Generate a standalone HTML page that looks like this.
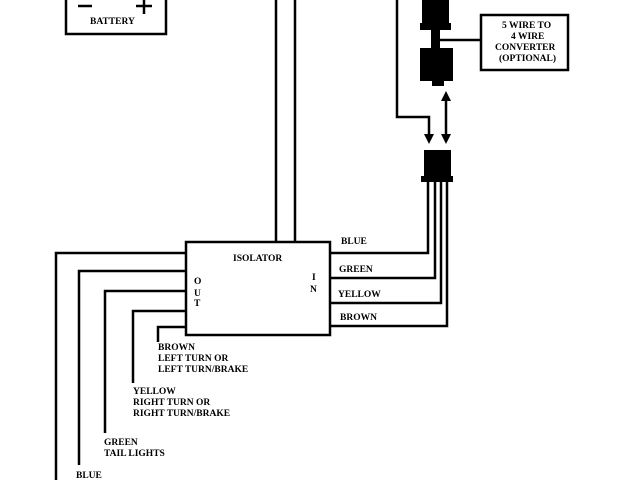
<!DOCTYPE html>
<html><head><style>
body{margin:0;background:#fff;}
svg{display:block}
text{font-family:"Liberation Serif",serif;font-weight:bold;font-size:9.5px;fill:#000}
</style></head><body>
<svg width="640" height="480" viewBox="0 0 640 480" xmlns="http://www.w3.org/2000/svg">
<g fill="none" stroke="#000" stroke-width="2.5">
<polyline points="66,-2 66,34 166,34 166,-2"/>
<line x1="276" y1="0" x2="276" y2="242"/>
<line x1="295" y1="0" x2="295" y2="242"/>
<rect x="186" y="242" width="144" height="93"/>
<polyline points="330,253 428,253 428,182"/>
<polyline points="330,278 435,278 435,182"/>
<polyline points="330,303 441,303 441,182"/>
<polyline points="330,326 447,326 447,182"/>
<polyline points="186,253 56,253 56,480"/>
<polyline points="186,271 79,271 79,465"/>
<polyline points="186,291 105,291 105,433"/>
<polyline points="186,311 133,311 133,383"/>
<polyline points="186,327 158,327 158,342"/>
<polyline points="397,0 397,117 429,117 429,135"/>
<line x1="446" y1="100" x2="446" y2="136"/>
<rect x="481" y="15" width="87" height="55"/>
<line x1="440" y1="40" x2="481" y2="40"/>
</g>
<g fill="#000">
<polygon points="424,134 434,134 429,144"/>
<polygon points="441,101 451,101 446,91"/>
<polygon points="441,134 451,134 446,144"/>
<rect x="424" y="150" width="27" height="28"/>
<rect x="421" y="176" width="32" height="6"/>
<rect x="422" y="0" width="27" height="25"/>
<rect x="420" y="23" width="31" height="7"/>
<rect x="431" y="30" width="9" height="18"/>
<rect x="420" y="48" width="33" height="33"/>
<rect x="432" y="80" width="12" height="6"/>
</g>
<g stroke="#000" stroke-width="2.5" fill="none">
<line x1="78" y1="6" x2="92" y2="6"/>
<line x1="136" y1="6" x2="152" y2="6"/>
<line x1="144" y1="-2" x2="144" y2="14"/>
</g>
<text x="90" y="24">BATTERY</text>
<text x="233" y="261">ISOLATOR</text>
<text x="194" y="284">O</text>
<text x="194" y="296">U</text>
<text x="194" y="306">T</text>
<text x="312" y="280">I</text>
<text x="310" y="292">N</text>
<text x="341" y="244">BLUE</text>
<text x="339" y="272">GREEN</text>
<text x="338" y="297">YELLOW</text>
<text x="340" y="320">BROWN</text>
<text x="158" y="350">BROWN</text>
<text x="158" y="361">LEFT TURN OR</text>
<text x="158" y="372">LEFT TURN/BRAKE</text>
<text x="133" y="394">YELLOW</text>
<text x="133" y="405">RIGHT TURN OR</text>
<text x="133" y="416">RIGHT TURN/BRAKE</text>
<text x="104" y="445">GREEN</text>
<text x="104" y="456">TAIL LIGHTS</text>
<text x="76" y="478">BLUE</text>
<text x="502" y="28">5 WIRE TO</text>
<text x="511" y="39">4 WIRE</text>
<text x="495" y="50">CONVERTER</text>
<text x="499" y="61">(OPTIONAL)</text>
</svg>
</body></html>
